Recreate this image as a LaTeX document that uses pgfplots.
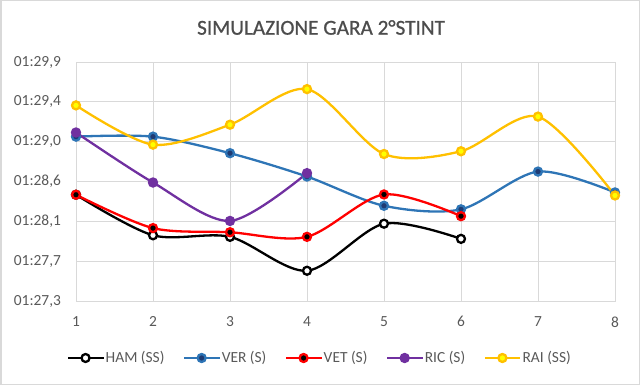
\documentclass[border=0pt]{standalone}
\usepackage{pgfplots}
\pgfplotsset{compat=1.18}
\usepackage{fontspec}
\setmainfont{Carlito}
\newfontfamily\titlefont{Carlito}[FakeBold=0.8]
\definecolor{gridc}{HTML}{D9D9D9}
\definecolor{txt}{HTML}{595959}
\definecolor{verline}{HTML}{2E75B6}
\definecolor{verfill}{HTML}{1F3B73}
\definecolor{ric}{HTML}{7030A0}
\definecolor{railine}{HTML}{FFC000}
\definecolor{raifill}{HTML}{FFFF00}
\begin{document}
\begin{tikzpicture}
\useasboundingbox (0,0) rectangle (640bp,385bp);
\draw[gridc, line width=1.5bp] (0.75bp,0.75bp) rectangle (639.25bp,384.25bp);
\node[text=txt!85!black, font=\titlefont\fontsize{21.3}{24}\selectfont] at (321bp,357.5bp) {SIMULAZIONE GARA 2°STINT};
\begin{axis}[
  at={(76bp,84bp)}, anchor=south west,
  scale only axis, width=539bp, height=239bp,
  xmin=1, xmax=8, ymin=87.3, ymax=89.9,
  xtick={1,...,8},
  ytick={87.3,87.73333,88.16667,88.6,89.03333,89.46667,89.9},
  yticklabels={{01:27,3},{01:27,7},{01:28,1},{01:28,6},{01:29,0},{01:29,4},{01:29,9}},
  /pgf/number format/assume math mode=true,
  grid=major, major grid style={gridc, line width=0.8bp},
  axis line style={gridc, line width=0.8bp},
  major tick length=0pt,
  tick label style={text=txt, font=\fontsize{15.5}{18}\selectfont},
  yticklabel style={xshift=-11.5bp},
  xticklabel style={yshift=-12bp},
  every axis plot/.append style={line width=2.3bp, smooth, mark size=4bp, mark options={line width=1.2bp, solid}},
  legend columns=5,
  legend style={draw=none, fill=none, at={(0.452,-0.2385)}, anchor=center,
    font=\fontsize{15.5}{18}\selectfont, text=txt,
    nodes={inner sep=1.5bp},
    /tikz/every even column/.append style={column sep=17bp}},
  legend image code/.code={\draw[mark repeat=2,mark phase=2] plot coordinates {(0bp,0bp) (17.5bp,0bp) (35bp,0bp)};},
]
\addplot[black, mark=*, mark options={fill=white, draw=black}] coordinates {
(1,88.456) (2,88.015) (3,87.998) (4,87.629) (5,88.141) (6,87.976)};
\addlegendentry{HAM (SS)}
\addplot[verline, mark=*, mark options={fill=verfill, draw=verline}] coordinates {
(1,89.088) (2,89.088) (3,88.908) (4,88.654) (5,88.336) (6,88.297) (7,88.708) (8,88.481)};
\addlegendentry{VER (S)}
\addplot[red, mark=*, mark options={fill=black, draw=red}] coordinates {
(1,88.456) (2,88.093) (3,88.048) (4,87.998) (5,88.459) (6,88.223)};
\addlegendentry{VET (S)}
\addplot[ric, mark=*, mark options={fill=ric, draw=ric}] coordinates {
(1,89.133) (2,88.589) (3,88.171) (4,88.691)};
\addlegendentry{RIC (S)}
\addplot[railine, mark=*, mark options={fill=raifill, draw=railine}] coordinates {
(1,89.428) (2,89.001) (3,89.218) (4,89.605) (5,88.899) (6,88.929) (7,89.306) (8,88.448)};
\addlegendentry{RAI (SS)}
\end{axis}
\end{tikzpicture}
\end{document}
